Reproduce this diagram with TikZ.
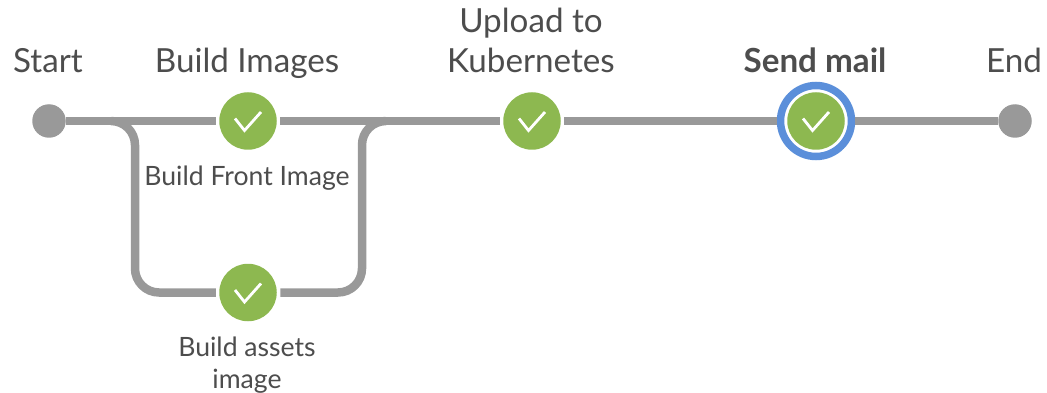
\documentclass[tikz,border=0pt]{standalone}
\usepackage{fontspec}
\setmainfont{Lato}
\definecolor{pipegray}{HTML}{999999}
\definecolor{okgreen}{HTML}{8DB850}
\definecolor{ringblue}{HTML}{5B8FDA}
\definecolor{labelgray}{HTML}{4D4D4D}
\tikzset{
  pipe/.style={draw=pipegray,line width=8.5pt},
  endpoint/.style={circle,fill=pipegray,minimum size=33.5pt,inner sep=0pt,outer sep=0pt},
  okstage/.style={circle,fill=okgreen,minimum size=57.5pt,inner sep=0pt,outer sep=3.5pt},
  ringstage/.style={circle,draw=ringblue,line width=7.5pt,fill=white,minimum size=71pt,inner sep=0pt},
  tickmark/.style={draw=white,line width=2.8pt},
  biglabel/.style={text=labelgray,font=\fontsize{33.2}{40}\selectfont,anchor=base,align=center,inner sep=0pt},
  smalllabel/.style={text=labelgray,font=\fontsize{26.6}{31.5}\selectfont,anchor=base,align=center,inner sep=0pt},
}
\newcommand{\tickin}[1]{\draw[tickmark,shift={(#1)}] (-13,-2.5) -- (-3.5,9.5) -- (13,-9);}
\begin{document}
\begin{tikzpicture}[x=1pt,y=-1pt]
\useasboundingbox (0,0) rectangle (1047,393);
\node[endpoint] (start) at (49,121) {};
\node[endpoint] (end) at (1015,121) {};
\node[okstage] (front) at (248,121) {};
\node[okstage] (assets) at (248,292.5) {};
\node[okstage] (upload) at (532,121) {};
\node[ringstage] (send) at (816,121) {};
\node[okstage] (sendcore) at (816,121) {};
\coordinate (splitin) at (111,121);
\coordinate (splitcornerA) at (135,121);
\coordinate (splitcornerB) at (135,292.5);
\coordinate (joinout) at (386,121);
\coordinate (joincornerA) at (362,121);
\coordinate (joincornerB) at (362,292.5);
\draw[pipe] (start) -- (front);
\draw[pipe] (front) -- (upload);
\draw[pipe] (upload) -- (send);
\draw[pipe] (send) -- (end);
\draw[pipe,rounded corners=24pt] (splitin) -- (splitcornerA) -- (splitcornerB) -- (assets);
\draw[pipe,rounded corners=24pt] (assets) -- (joincornerB) -- (joincornerA) -- (joinout);
\tickin{front}
\tickin{assets}
\tickin{upload}
\tickin{sendcore}
\node[biglabel] (lstart) at (48,72.5) {Start};
\node[biglabel] (lbuild) at (247,72.5) {Build Images};
\node[biglabel] (lupload) at (531,72.5) {Upload to\\Kubernetes};
\node[biglabel,font=\fontsize{33.2}{40}\selectfont\bfseries] (lsend) at (815,72.5) {Send mail};
\node[biglabel] (lend) at (1014,72.5) {End};
\node[smalllabel] (lfront) at (247,185.5) {Build Front Image};
\node[smalllabel] (lassets) at (247,388) {Build assets\\image};
\end{tikzpicture}
\end{document}
